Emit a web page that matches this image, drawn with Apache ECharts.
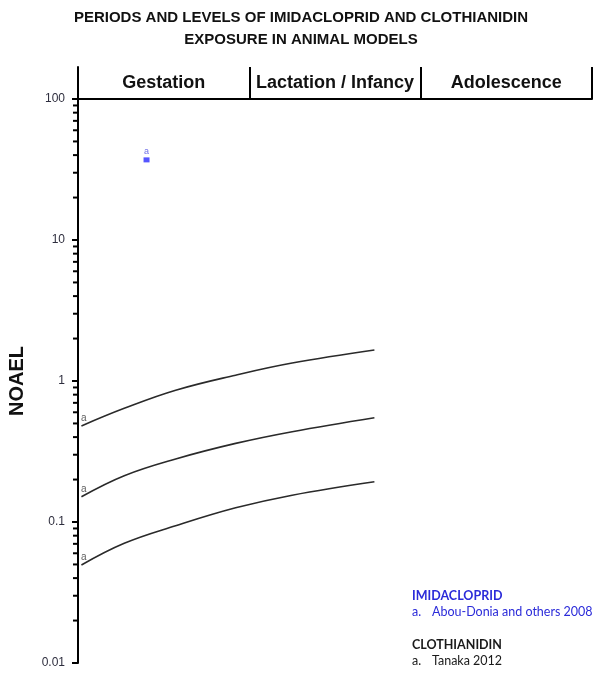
<!DOCTYPE html>
<html>
<head>
<meta charset="utf-8">
<script src="https://cdn.jsdelivr.net/npm/echarts@6/dist/echarts.min.js"></script>
<style>
  html, body { margin: 0; padding: 0; background: #fff; }
  #chart { width: 602px; height: 676px; }
</style>
</head>
<body>
<div id="chart"></div>
<script>
// ---------- data ----------
var titleLines = ['PERIODS AND LEVELS OF IMIDACLOPRID AND CLOTHIANIDIN', 'EXPOSURE IN ANIMAL MODELS'];
var periodNames = ['Gestation', 'Lactation / Infancy', 'Adolescence'];
var periodStarts = [0, 1, 2];
var periodEnds = [1, 2, 3];

var yTickValues = [0.01, 0.1, 1, 10, 100];
var yTickLabels = ['0.01', '0.1', '1', '10', '100'];
var minorTickValues = [
  0.02, 0.03, 0.04, 0.05, 0.06, 0.07, 0.08, 0.09,
  0.2, 0.3, 0.4, 0.5, 0.6, 0.7, 0.8, 0.9,
  2, 3, 4, 5, 6, 7, 8, 9,
  20, 30, 40, 50, 60, 70, 80, 90
];

// Imidacloprid point (Abou-Donia and others 2008)
var imidaX = [0.40];
var imidaY = [37];
var imidaRef = ['a'];

// Clothianidin curves (Tanaka 2012)
var clothX = [0.02, 0.27, 0.57, 0.92, 1.25, 1.73];
var clothHigh = [0.48, 0.64, 0.86, 1.10, 1.34, 1.66];
var clothMid = [0.151, 0.213, 0.28, 0.361, 0.437, 0.549];
var clothLow = [0.0495, 0.0706, 0.094, 0.126, 0.155, 0.193];
var clothRef = ['a', 'a', 'a'];

var notes = [
  { head: 'IMIDACLOPRID', ref: 'a.', text: 'Abou-Donia and others 2008', color: '#2b2bd9' },
  { head: 'CLOTHIANIDIN', ref: 'a.', text: 'Tanaka 2012', color: '#1a1a1a' }
];

// ---------- build ----------
function pairs(xs, ys) { return xs.map(function (x, i) { return [x, ys[i]]; }); }

var curves = [clothHigh, clothMid, clothLow];
var curveSeries = curves.map(function (c) {
  return {
    type: 'line', xAxisIndex: 0, yAxisIndex: 0,
    data: pairs(clothX, c), smooth: 0.4, symbol: 'none',
    lineStyle: { color: '#2a2a2a', width: 1.6 }, silent: true, z: 3
  };
});

var startLabels = {
  type: 'scatter', xAxisIndex: 0, yAxisIndex: 0,
  data: curves.map(function (c, i) { return { value: [clothX[0], c[0]], ref: clothRef[i] }; }),
  symbolSize: 1, itemStyle: { color: 'rgba(0,0,0,0)' }, silent: true,
  label: {
    show: true, position: [0, -12],
    formatter: function (p) { return p.data.ref; },
    color: '#333', fontSize: 10, fontFamily: 'Liberation Sans, Arial, sans-serif'
  }
};

var imidaSeries = {
  type: 'scatter', xAxisIndex: 0, yAxisIndex: 0,
  data: imidaX.map(function (x, i) { return { value: [x, imidaY[i]], ref: imidaRef[i] }; }),
  symbol: 'rect', symbolSize: [6, 5],
  itemStyle: { color: '#2b2bff' }, silent: true,
  label: {
    show: true, position: 'top', distance: 1,
    formatter: function (p) { return p.data.ref; },
    color: '#4a4ae0', fontSize: 9, fontFamily: 'Liberation Sans, Arial, sans-serif'
  }
};

var minorTicks = {
  type: 'custom', xAxisIndex: 0, yAxisIndex: 0,
  data: minorTickValues.map(function (v) { return [0, v]; }),
  clip: false, silent: true, z: 5,
  renderItem: function (params, api) {
    var pt = api.coord([api.value(0), api.value(1)]);
    return {
      type: 'line',
      shape: { x1: pt[0] - 5, y1: pt[1], x2: pt[0], y2: pt[1] },
      style: { stroke: '#000', lineWidth: 2 }
    };
  }
};

var headerSeries = {
  type: 'line', xAxisIndex: 1, yAxisIndex: 1, data: [], silent: true,
  markLine: {
    symbol: 'none', silent: true, animation: false,
    label: { show: false },
    lineStyle: { color: '#000', width: 2, type: 'solid' },
    data: periodEnds.map(function (v) { return { xAxis: v }; })
  },
  markArea: {
    silent: true,
    itemStyle: { color: 'rgba(0,0,0,0)' },
    label: {
      show: true, position: 'inside', color: '#111',
      fontSize: 18, fontWeight: 'bold', fontFamily: 'Liberation Sans, Arial, sans-serif'
    },
    data: periodNames.map(function (n, i) {
      return [{ name: n, xAxis: periodStarts[i] }, { xAxis: periodEnds[i] }];
    })
  }
};

var noteGraphics = [];
var noteTop = 597;
var noteFont = '12.5px Lato, "Open Sans", sans-serif';
notes.forEach(function (n, i) {
  var y0 = noteTop + i * 49;
  noteGraphics.push({
    type: 'text', left: 412, top: y0 - 8,
    style: { text: n.head, fill: n.color, font: 'bold ' + noteFont }
  });
  noteGraphics.push({
    type: 'text', left: 412, top: y0 + 8,
    style: { text: n.ref, fill: n.color, font: noteFont }
  });
  noteGraphics.push({
    type: 'text', left: 432, top: y0 + 8,
    style: { text: n.text, fill: n.color, font: noteFont }
  });
});

var option = {
  animation: false,
  backgroundColor: '#fff',
  title: {
    text: titleLines.join('\n'),
    left: 'center', top: 2,
    textStyle: {
      fontSize: 15, fontWeight: 'bold', color: '#111', lineHeight: 22,
      fontFamily: 'Liberation Sans, Arial, sans-serif'
    }
  },
  grid: [
    { left: 78, right: 10, top: 99, bottom: 13, outerBoundsMode: 'none', containLabel: false },
    { left: 78, right: 10, top: 67, height: 32, outerBoundsMode: 'none', containLabel: false }
  ],
  xAxis: [
    { type: 'value', gridIndex: 0, min: 0, max: 3, show: false },
    {
      type: 'value', gridIndex: 1, min: 0, max: 3, position: 'bottom',
      axisLine: { show: true, lineStyle: { color: '#000', width: 2 } },
      axisTick: { show: false }, axisLabel: { show: false }, splitLine: { show: false }
    }
  ],
  yAxis: [
    {
      type: 'log', logBase: 10, gridIndex: 0, min: 0.01, max: 100,
      name: 'NOAEL', nameLocation: 'middle', nameGap: 51, nameRotate: 90,
      nameTextStyle: { fontSize: 20, fontWeight: 'bold', color: '#111', fontFamily: 'Liberation Sans, Arial, sans-serif' },
      axisLine: { show: true, lineStyle: { color: '#000', width: 2 } },
      axisTick: { show: true, length: 6, lineStyle: { color: '#000', width: 2 } },
      axisLabel: {
        color: '#2e2e3e', fontSize: 12, margin: 13,
        fontFamily: 'Liberation Sans, Arial, sans-serif',
        formatter: function (v) {
          for (var i = 0; i < yTickValues.length; i++) {
            if (Math.abs(Math.log10(v) - Math.log10(yTickValues[i])) < 1e-6) return yTickLabels[i];
          }
          return '';
        }
      },
      splitLine: { show: false }, minorTick: { show: false }
    },
    {
      type: 'value', gridIndex: 1, min: 0, max: 1,
      axisLine: { show: true, lineStyle: { color: '#000', width: 2 } },
      axisTick: { show: false }, axisLabel: { show: false }, splitLine: { show: false }
    }
  ],
  series: curveSeries.concat([startLabels, imidaSeries, minorTicks, headerSeries]),
  graphic: noteGraphics
};

var chart = echarts.init(document.getElementById('chart'), null, { renderer: 'canvas' });
chart.setOption(option);
</script>
</body>
</html>
